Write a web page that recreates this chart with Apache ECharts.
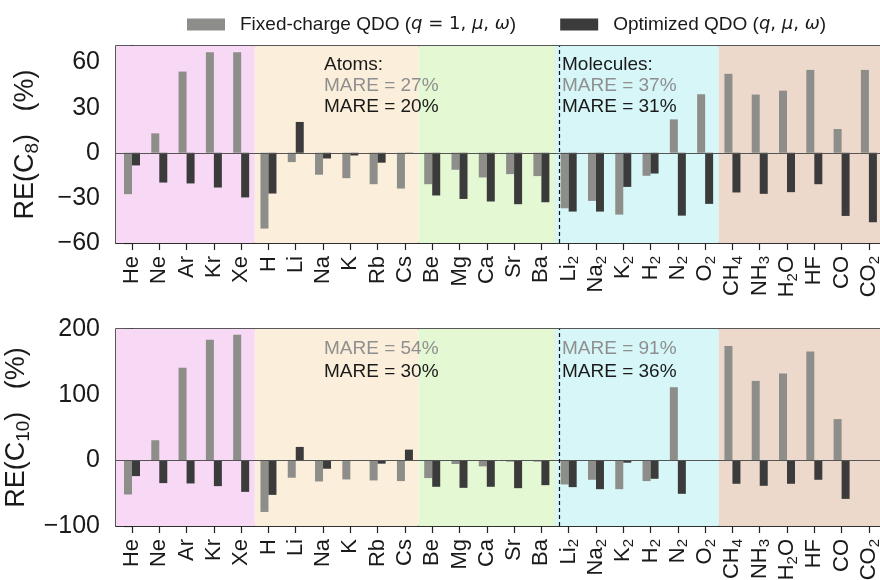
<!DOCTYPE html>
<html>
<head>
<meta charset="utf-8">
<script src="https://cdn.jsdelivr.net/npm/echarts@6/dist/echarts.min.js"></script>
<style>
html,body{margin:0;padding:0;background:#fff;}
#chart{width:880px;height:580px;}
</style>
</head>
<body>
<div id="chart"></div>
<script>
const categories = ['He','Ne','Ar','Kr','Xe','H','Li','Na','K','Rb','Cs','Be','Mg','Ca','Sr','Ba','Li2','Na2','K2','H2','N2','O2','CH4','NH3','H2O','HF','CO','CO2'];
const seriesNames = ['Fixed-charge QDO', 'Optimized QDO'];
const c8Fixed = [-27.5, 12.9, 54.0, 66.9, 66.9, -50.4, -6.2, -14.6, -16.9, -20.9, -23.8, -20.9, -11.3, -16.4, -14.2, -15.5, -36.9, -32.0, -41.1, -15.3, 22.2, 38.9, 52.5, 38.7, 41.3, 55.1, 15.8, 55.1];
const c8Opt = [-8.4, -19.8, -20.4, -23.1, -29.7, -27.1, 20.5, -3.8, -1.8, -6.6, -0.5, -28.4, -30.7, -32.4, -34.2, -32.9, -39.1, -39.1, -22.7, -13.8, -41.8, -34.0, -26.4, -27.3, -26.2, -20.9, -42.0, -46.2];
const c10Fixed = [-52, 30.6, 140.9, 183.8, 191.4, -78.6, -26.5, -32.2, -29.1, -30.6, -31.6, -27, -5.6, -9.2, -2, -2, -36.7, -29.6, -43.9, -31.6, 111.3, null, 174.1, 121, 132.2, 165.9, 62.8, null];
const c10Opt = [-24, -34.7, -35.2, -39.3, -48, -52.6, 20.4, -12.8, -0.5, -5.1, 16.3, -40.3, -41.9, -40.3, -42.4, -37.8, -40.8, -43.9, -3.6, -28.1, -51, null, -35.7, -38.8, -35.7, -29.6, -58.7, null];
const c8Ticks = [-60, -30, 0, 30, 60];
const c10Ticks = [-100, 0, 100, 200];
// group boundaries (between categories) and group colours
const groupEdges = [-0.586, 4.5, 10.5, 15.5, 21.5, 27.6];
const groupColors = ['#f8d9f5', '#fbefdb', '#e3f8d3', '#d6f6f7', '#ecd9cc'];
const atomsMoleculesSplit = 15.5;
const mareTop = {atoms: ['27%', '20%'], molecules: ['37%', '31%']};
const mareBottom = {atoms: ['54%', '30%'], molecules: ['91%', '36%']};

const GRAY = '#8d8d89', DARK = '#3b3b3b';
const FONT = '"Liberation Sans", Arial, Helvetica, sans-serif';
const MATH = '"DejaVu Sans", sans-serif';

function labelRich(name) {
  return name.replace(/([A-Za-z]+)|(\d+)/g, (m, a, d) => a ? '{n|' + a + '}' : '{s|' + d + '}');
}
const xIdx = categories.map((_, i) => i);
function pairs(arr) { return arr.map((v, i) => v == null ? null : [i, v]).filter(p => p); }

function makeXAxis(gi) {
  return {
    type: 'value', gridIndex: gi, min: groupEdges[0], max: 27.59,
    axisLine: {show: true, onZero: false, lineStyle: {color: '#222', width: 1.5}},
    axisTick: {show: true, customValues: xIdx, length: 7, lineStyle: {color: '#222', width: 1.2}},
    splitLine: {show: false},
    axisLabel: {
      show: true, customValues: xIdx, rotate: 90, margin: 13,
      formatter: v => labelRich(categories[Math.round(v)] || ''),
      rich: {
        n: {fontFamily: FONT, fontSize: 22, color: '#1a1a1a', lineHeight: 26},
        s: {fontFamily: FONT, fontSize: 15, color: '#1a1a1a', lineHeight: 15, verticalAlign: 'bottom'}
      }
    }
  };
}
function makeYAxis(gi, min, max, ticks, sub, interval) {
  const ax = {
    type: 'value', gridIndex: gi, min: min, max: max,
    axisLine: {show: true, lineStyle: {color: '#222', width: 1.5}},
    axisTick: {show: true, length: 8, lineStyle: {color: '#222', width: 1.2}},
    minorTick: {show: !!interval, splitNumber: 2, length: 4, lineStyle: {color: '#222', width: 1}},
    splitLine: {show: false},
    minorSplitLine: {show: false},
    axisLabel: {fontFamily: FONT, fontSize: 25, color: '#1a1a1a', margin: 16,
      formatter: v => String(v).replace('-', '\u2212')},
    name: '{n|RE(C}{s|' + sub + '}{n|)   (%)}',
    nameLocation: 'middle', nameRotate: 90, nameGap: 74,
    nameTextStyle: {rich: {
      n: {fontFamily: FONT, fontSize: 27, color: '#1a1a1a', lineHeight: 32},
      s: {fontFamily: FONT, fontSize: 19, color: '#1a1a1a', lineHeight: 19, verticalAlign: 'bottom'}
    }}
  };
  if (interval) {
    ax.interval = interval;
  } else {
    ax.axisTick.customValues = ticks;
    ax.axisLabel.customValues = ticks;
  }
  return ax;
}
function bands(gi) {
  return {
    type: 'line', xAxisIndex: gi, yAxisIndex: gi, data: [], z: 0, silent: true,
    markArea: {silent: true, data: groupColors.map((c, k) => [
      {xAxis: groupEdges[k], itemStyle: {color: c, opacity: 1}}, {xAxis: groupEdges[k + 1]}
    ])}
  };
}
function bars(gi, name, data, color, withLines) {
  const s = {
    type: 'bar', name: name, xAxisIndex: gi, yAxisIndex: gi, data: pairs(data),
    barWidth: 8, barGap: '0%', z: 2, itemStyle: {color: color}, silent: true
  };
  if (withLines) {
    s.markLine = {silent: true, symbol: 'none', label: {show: false}, data: [
      {yAxis: 0, lineStyle: {color: '#555', width: 1, type: 'solid'}},
      {xAxis: atomsMoleculesSplit, lineStyle: {color: '#111', width: 1.2, type: [4, 3]}}
    ]};
  }
  return s;
}
function txt(x, y, t, color) {
  return {type: 'text', x: x, y: y, z: 10, style: {text: t, fill: color, font: '19px ' + FONT, verticalAlign: 'middle'}};
}
const gridBase = {left: 116, width: 769, height: 197, show: true, borderColor: '#222', borderWidth: 1.5,
  backgroundColor: 'transparent', containLabel: false, outerBoundsMode: 'none'};
const chart = echarts.init(document.getElementById('chart'), null, {renderer: 'canvas'});
chart.setOption({
  animation: false,
  backgroundColor: '#fff',
  legend: {
    data: seriesNames, left: 187, top: 15, padding: 0, icon: 'rect', itemWidth: 38, itemHeight: 12, itemGap: 44,
    selectedMode: false,
    formatter: n => n === seriesNames[0]
      ? '{n|Fixed-charge QDO (}{i|q}{m| = 1, }{i|\u03bc}{m|, }{i|\u03c9}{n|)}'
      : '{n|Optimized QDO (}{i|q}{m|, }{i|\u03bc}{m|, }{i|\u03c9}{n|)}',
    textStyle: {padding: [0, 0, 0, 10], rich: {
      n: {fontFamily: FONT, fontSize: 19, color: '#1a1a1a'},
      m: {fontFamily: MATH, fontSize: 18, color: '#1a1a1a'},
      i: {fontFamily: MATH, fontSize: 18, fontStyle: 'italic', color: '#1a1a1a'}
    }}
  },
  grid: [
    Object.assign({}, gridBase, {top: 46}),
    Object.assign({}, gridBase, {top: 329})
  ],
  xAxis: [makeXAxis(0), makeXAxis(1)],
  yAxis: [makeYAxis(0, -60, 71, c8Ticks, '8', 0), makeYAxis(1, -100, 200, c10Ticks, '10', 100)],
  series: [
    bands(0), bands(1),
    bars(0, seriesNames[0], c8Fixed, GRAY, false),
    bars(0, seriesNames[1], c8Opt, DARK, true),
    bars(1, seriesNames[0], c10Fixed, GRAY, false),
    bars(1, seriesNames[1], c10Opt, DARK, true)
  ],
  graphic: [
    txt(324, 65, 'Atoms:', '#1a1a1a'),
    txt(324, 86, 'MARE = ' + mareTop.atoms[0], '#8f8f8f'),
    txt(324, 107, 'MARE = ' + mareTop.atoms[1], '#1a1a1a'),
    txt(562, 65, 'Molecules:', '#1a1a1a'),
    txt(562, 86, 'MARE = ' + mareTop.molecules[0], '#8f8f8f'),
    txt(562, 107, 'MARE = ' + mareTop.molecules[1], '#1a1a1a'),
    txt(324, 349, 'MARE = ' + mareBottom.atoms[0], '#8f8f8f'),
    txt(324, 372, 'MARE = ' + mareBottom.atoms[1], '#1a1a1a'),
    txt(562, 349, 'MARE = ' + mareBottom.molecules[0], '#8f8f8f'),
    txt(562, 372, 'MARE = ' + mareBottom.molecules[1], '#1a1a1a')
  ]
});
</script>
</body>
</html>
